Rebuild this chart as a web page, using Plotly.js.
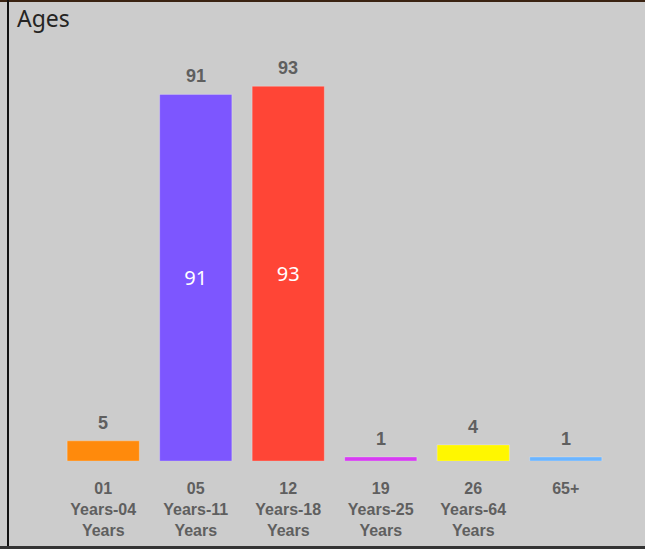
<!DOCTYPE html>
<html>
<head>
<meta charset="utf-8">
<script src="https://cdn.plot.ly/plotly-3.0.1.min.js"></script>
<style>
  html, body { margin:0; padding:0; background:#cccccc; }
  #wrap { position:relative; width:645px; height:549px; overflow:hidden; background:#cccccc; }
  #chart { position:absolute; left:0; top:0; width:645px; height:549px; }
  .b { position:absolute; }
</style>
</head>
<body>
<div id="wrap">
  <div id="chart"></div>
  <div class="b" style="left:0;top:0;width:645px;height:2px;background:#3a2312;"></div>
  <div class="b" style="left:7px;top:0;width:2px;height:549px;background:#111111;"></div>
  <div class="b" style="left:0;top:546px;width:645px;height:3px;background:#333333;"></div>
</div>
<script>
const categories = [
  "01<br>Years-04<br>Years",
  "05<br>Years-11<br>Years",
  "12<br>Years-18<br>Years",
  "19<br>Years-25<br>Years",
  "26<br>Years-64<br>Years",
  "65+"
];
const counts = [5, 91, 93, 1, 4, 1];
const barColors = ["#FF8A0C", "#7D56FF", "#FF4536", "#D63CF2", "#FFF700", "#6CB5FF"];

const trace = {
  type: 'bar',
  x: categories,
  y: counts,
  marker: { color: barColors, line: { color: 'rgba(255,255,255,0.25)', width: 1 } },
  text: counts.map(String),
  textposition: 'inside',
  insidetextanchor: 'middle',
  textangle: 0,
  insidetextfont: { family: 'Segoe UI, Noto Sans, sans-serif', size: 20, color: '#ffffff' },
  hoverinfo: 'none',
  cliponaxis: false
};

const annotations = categories.map((c, i) => ({
  x: c, y: counts[i], xref: 'x', yref: 'y',
  text: String(counts[i]),
  showarrow: false, yanchor: 'bottom', yshift: 6,
  font: { family: 'Arial, Liberation Sans, sans-serif', size: 18, color: '#5f5f5f', weight: 'bold' }
}));

const layout = {
  width: 645, height: 549,
  paper_bgcolor: '#cccccc', plot_bgcolor: '#cccccc',
  margin: { l: 57, r: 33, t: 40, b: 88, pad: 0 },
  title: {
    text: 'Ages', xref: 'container', yref: 'container',
    x: 17/645, xanchor: 'left', y: 1 - 19/549, yanchor: 'middle',
    font: { family: 'Segoe UI, Noto Sans, sans-serif', size: 23, color: '#252423' }
  },
  bargap: 0.22,
  showlegend: false,
  uniformtext: { mode: 'hide', minsize: 20 },
  xaxis: {
    type: 'category', showline: false, showgrid: false, zeroline: false,
    ticks: 'outside', ticklen: 13, tickcolor: 'rgba(0,0,0,0)',
    tickfont: { family: 'Arial, Liberation Sans, sans-serif', size: 16, color: '#5f5f5f', weight: 'bold' },
    fixedrange: true
  },
  yaxis: { visible: false, range: [0, 104.5], showgrid: false, zeroline: false, fixedrange: true },
  annotations: annotations
};

Plotly.newPlot('chart', [trace], layout, { displayModeBar: false, staticPlot: true });
</script>
</body>
</html>
